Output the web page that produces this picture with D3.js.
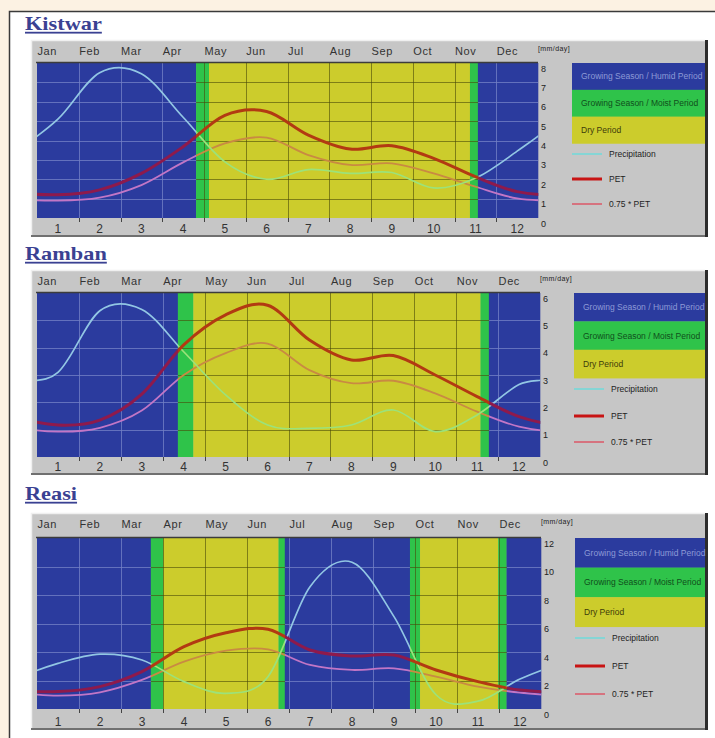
<!DOCTYPE html>
<html>
<head>
<meta charset="utf-8">
<script src="https://cdn.jsdelivr.net/npm/d3@7"></script>
<style>
  body { margin: 0; background: #fcf2e3; }
  svg { display: block; font-family: "Liberation Sans", Arial, sans-serif; }
</style>
</head>
<body>
<svg id="chart" width="715" height="738"></svg>
<script>
// ---- data ----
const months = ["Jan", "Feb", "Mar", "Apr", "May", "Jun", "Jul", "Aug", "Sep", "Oct", "Nov", "Dec"];
const monthNums = [1, 2, 3, 4, 5, 6, 7, 8, 9, 10, 11, 12];
const seriesNames = ["Precipitation", "PET", "0.75 * PET"];
const periodNames = ["Growing Season / Humid Period", "Growing Season / Moist Period", "Dry Period"];
const stationNames = ["Kistwar", "Ramban", "Reasi"];

// mm/day, one value per month
const kistwarPrecip = [5.1, 7.5, 7.45, 5.2, 2.9, 2.0, 2.5, 2.3, 2.35, 1.55, 2.05, 3.45];
const kistwarPET    = [1.2, 1.45, 2.3, 3.68, 5.3, 5.5, 4.28, 3.56, 3.73, 3.08, 2.13, 1.36];
const kistwarPET75  = [0.9, 1.05, 1.7, 2.87, 3.85, 4.15, 3.25, 2.74, 2.82, 2.3, 1.62, 1.01];

const rambanPrecip = [3.1, 5.35, 5.4, 3.85, 2.27, 1.17, 1.05, 1.17, 1.72, 0.93, 1.54, 2.65];
const rambanPET    = [1.17, 1.35, 2.3, 4.1, 5.2, 5.55, 4.28, 3.55, 3.71, 3.0, 2.21, 1.48];
const rambanPET75  = [0.93, 1.07, 1.7, 3.0, 3.8, 4.15, 3.18, 2.7, 2.79, 2.33, 1.66, 1.11];

const reasiPrecip = [3.2, 3.85, 3.44, 1.92, 1.1, 2.27, 8.58, 10.3, 6.48, 1.0, 0.55, 2.1];
const reasiPET    = [1.22, 1.57, 2.62, 4.37, 5.35, 5.6, 4.14, 3.72, 3.79, 2.74, 1.92, 1.33];
const reasiPET75  = [0.94, 1.17, 2.04, 3.32, 4.09, 4.19, 3.09, 2.74, 2.85, 2.27, 1.57, 1.15];

// periods: [start, end] in months from 1 Jan, and type
const kistwarPeriods = [[0, 3.81, "humid"], [3.81, 4.12, "moist"], [4.12, 10.37, "dry"], [10.37, 10.56, "moist"], [10.56, 12, "humid"]];
const rambanPeriods  = [[0, 3.36, "humid"], [3.36, 3.73, "moist"], [3.73, 10.58, "dry"], [10.58, 10.78, "moist"], [10.78, 12, "humid"]];
const reasiPeriods   = [[0, 2.71, "humid"], [2.71, 3.01, "moist"], [3.01, 5.75, "dry"], [5.75, 5.9, "moist"], [5.9, 8.88, "humid"],
                        [8.88, 9.12, "moist"], [9.12, 10.98, "dry"], [10.98, 11.18, "moist"], [11.18, 12, "humid"]];

const yMaxes = [8, 6, 12];
const ySteps = [1, 1, 2];

// ---- layout ----
const layouts = [
  { title: 30,  frameTop: 40,  frameBottom: 237, plotTop: 63,  plotBottom: 218, right: 538 },
  { title: 260, frameTop: 270, frameBottom: 475, plotTop: 293, plotBottom: 457, right: 540 },
  { title: 500, frameTop: 513, frameBottom: 730, plotTop: 538, plotBottom: 709, right: 541 }
];

const periodColor = { humid: "#2b3b9e", moist: "#2fc34a", dry: "#cccc2c" };
const periodText = { humid: "#8d9ad6", moist: "#0f4f1c", dry: "#3d3b0a" };
// line colours: legend, over the blue period, over green / yellow periods
const lineStyle = [
  { color: "#7ad8d8", humid: "#92c6e4", other: "#9ce27a", width: 1.7 },
  { color: "#c81414", humid: "#8e1a4c", other: "#b23a12", width: 3 },
  { color: "#d86a78", humid: "#c276c6", other: "#c98a42", width: 1.8 }
];

const charts = [
  { name: stationNames[0], series: [kistwarPrecip, kistwarPET, kistwarPET75], periods: kistwarPeriods },
  { name: stationNames[1], series: [rambanPrecip, rambanPET, rambanPET75], periods: rambanPeriods },
  { name: stationNames[2], series: [reasiPrecip, reasiPET, reasiPET75], periods: reasiPeriods }
];

const svg = d3.select("#chart");

// page: cream border + white sheet
svg.append("rect").attr("width", 715).attr("height", 738).attr("fill", "#fcf2e3");
svg.append("rect").attr("x", 10).attr("y", 12).attr("width", 705).attr("height", 726).attr("fill", "#ffffff");
svg.append("path").attr("d", "M9.5,738V11.5H715").attr("fill", "none").attr("stroke", "#3a3a3a").attr("stroke-width", 1.5);

// repeat the year on both sides so the curve runs to the plot edges
const wrap = arr => d3.range(-2, 14).map(k => [k + 0.5, arr[(k + 12) % 12]]);

function drawPanel(c, i) {
  const L = layouts[i];
  const yMax = yMaxes[i], yStep = ySteps[i];
  const g = svg.append("g");
  const x = d3.scaleLinear().domain([0, 12]).range([37, L.right]);
  const xb = d3.scaleBand().domain(monthNums).range([37, L.right]);
  const y = d3.scaleLinear().domain([0, yMax]).range([L.plotBottom, L.plotTop]);
  const h = L.plotBottom - L.plotTop;

  // title
  g.append("text")
    .attr("transform", `translate(25,${L.title}) scale(1.24,1)`)
    .attr("font-family", "'Liberation Serif','Times New Roman',serif")
    .attr("font-weight", "bold").attr("font-size", 18)
    .attr("fill", "#3a4192").attr("text-decoration", "underline")
    .text(c.name);

  // bevel frame
  g.append("rect").attr("x", 31).attr("y", L.frameTop).attr("width", 677)
    .attr("height", L.frameBottom - L.frameTop).attr("fill", "#c6c6c6");
  g.append("path").attr("d", `M31.5,${L.frameBottom}V${L.frameTop + 0.5}H705`)
    .attr("fill", "none").attr("stroke", "#f0f0f0").attr("stroke-width", 1.5);
  g.append("path").attr("d", `M31,${L.frameBottom - 1}H706`)
    .attr("stroke", "#707070").attr("stroke-width", 2);
  g.append("rect").attr("x", 705).attr("y", L.frameTop).attr("width", 3)
    .attr("height", L.frameBottom - L.frameTop).attr("fill", "#2c2c2c");

  // periods
  const clipHumid = `clip-h-${i}`, clipOther = `clip-o-${i}`;
  const defs = g.append("defs");
  [[clipHumid, p => p[2] === "humid"], [clipOther, p => p[2] !== "humid"]].forEach(([id, f]) => {
    defs.append("clipPath").attr("id", id).selectAll("rect")
      .data(c.periods.filter(f)).join("rect")
      .attr("x", p => x(p[0])).attr("width", p => x(p[1]) - x(p[0]) + 0.3)
      .attr("y", L.plotTop).attr("height", h);
  });

  g.append("g").selectAll("rect").data(c.periods).join("rect")
    .attr("x", p => x(p[0])).attr("width", p => x(p[1]) - x(p[0]) + 0.3)
    .attr("y", L.plotTop).attr("height", h)
    .attr("fill", p => periodColor[p[2]]);

  // grid, lighter over blue, dark over yellow/green
  const yGrid = d3.range(yStep, yMax, yStep);
  const xGrid = d3.range(1, 12);
  [[clipHumid, "#7280c4", 0.8], [clipOther, "#4a4a08", 0.6]].forEach(([id, col, op]) => {
    const gg = g.append("g").attr("clip-path", `url(#${id})`)
      .attr("stroke", col).attr("stroke-opacity", op).attr("stroke-width", 1);
    gg.selectAll(".h").data(yGrid).join("line").attr("class", "h")
      .attr("x1", 37).attr("x2", L.right)
      .attr("y1", v => Math.round(y(v)) + 0.5).attr("y2", v => Math.round(y(v)) + 0.5);
    gg.selectAll(".v").data(xGrid).join("line").attr("class", "v")
      .attr("y1", L.plotTop).attr("y2", L.plotBottom)
      .attr("x1", m => Math.round(x(m)) + 0.5).attr("x2", m => Math.round(x(m)) + 0.5);
  });

  // plot border on top
  g.append("line").attr("x1", 36).attr("x2", L.right).attr("y1", L.plotTop - 0.5).attr("y2", L.plotTop - 0.5)
    .attr("stroke", "#3c3c3c").attr("stroke-width", 1.5);

  // curves, tinted by the period underneath
  const line = d3.line().x(p => x(p[0])).y(p => y(p[1])).curve(d3.curveCardinal);
  [["humid", clipHumid], ["other", clipOther]].forEach(([key, id]) => {
    const lg = g.append("g").attr("clip-path", `url(#${id})`).attr("fill", "none");
    [2, 0, 1].forEach(k => {
      lg.append("path").attr("d", line(wrap(c.series[k])))
        .attr("stroke", lineStyle[k][key]).attr("stroke-width", lineStyle[k].width)
        .attr("stroke-linejoin", "round");
    });
  });

  // top axis: month names
  const top = g.append("g").attr("transform", `translate(0,${L.frameTop + 14.5})`)
    .call(d3.axisTop(xb).tickSize(0).tickPadding(0).tickFormat(m => months[m - 1]));
  top.select(".domain").remove();
  top.selectAll("text").attr("text-anchor", "start").attr("x", -xb.bandwidth() / 2 + 0.5).attr("y", 0).attr("dy", 0)
    .attr("font-size", 11).attr("letter-spacing", 0.6).attr("fill", "#333");

  // bottom axis: month numbers
  const bot = g.append("g").attr("transform", `translate(0,${L.frameBottom - 4})`)
    .call(d3.axisBottom(xb).tickSize(0).tickPadding(0));
  bot.select(".domain").remove();
  bot.selectAll("text").attr("y", 0).attr("dy", 0).attr("font-size", 12).attr("fill", "#333");
  g.append("g").selectAll("line").data(xGrid).join("line")
    .attr("x1", m => Math.round(x(m)) + 0.5).attr("x2", m => Math.round(x(m)) + 0.5)
    .attr("y1", L.plotBottom).attr("y2", L.plotBottom + 4)
    .attr("stroke", "#444").attr("stroke-width", 1);

  // right axis: mm/day
  const ya = g.append("g").attr("transform", `translate(${L.right},0)`)
    .call(d3.axisRight(y).tickValues(d3.range(0, yMax + 0.001, yStep)).tickSize(0).tickPadding(3).tickFormat(d3.format("d")));
  ya.select(".domain").remove();
  ya.selectAll("text").attr("dy", 8).attr("font-size", 9).attr("fill", "#222");
  g.append("text").attr("x", L.right).attr("y", L.frameTop + 11)
    .attr("font-size", 7).attr("letter-spacing", 0.4).attr("fill", "#222").text("[mm/day]");

  // legend
  const lx = L.right + 34, lw = 705 - lx, bh = h * 0.173;
  const boxes = g.append("g").selectAll("g").data(["humid", "moist", "dry"]).join("g")
    .attr("transform", (t, j) => `translate(${lx},${L.plotTop + j * bh})`);
  boxes.append("rect").attr("width", lw).attr("height", bh + 0.3).attr("fill", t => periodColor[t]);
  boxes.append("text").attr("x", 9).attr("y", bh / 2 + 3).attr("font-size", 8.5)
    .attr("fill", t => periodText[t]).text((t, j) => periodNames[j]);

  const items = g.append("g").selectAll("g").data([0.587, 0.75, 0.91]).join("g")
    .attr("transform", f => `translate(${lx},${Math.round(L.plotTop + f * h)})`);
  items.append("line").attr("x1", 0).attr("x2", 30)
    .attr("stroke", (f, k) => lineStyle[k].color)
    .attr("stroke-width", (f, k) => lineStyle[k].width);
  items.append("text").attr("x", 37).attr("y", 3).attr("font-size", 8.5)
    .attr("fill", "#1e1e1e").text((f, k) => seriesNames[k]);
}

charts.forEach(drawPanel);
</script>
</body>
</html>
